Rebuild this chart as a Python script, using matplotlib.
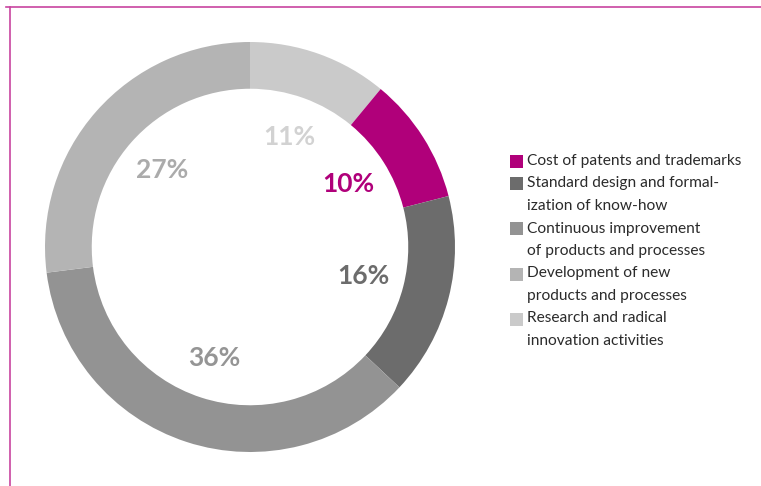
import numpy as np
import matplotlib.pyplot as plt
from matplotlib.lines import Line2D
from matplotlib.patches import Rectangle

# data, in clockwise order starting at 12 o'clock
categories = ['Research and radical\ninnovation activities',
              'Cost of patents and trademarks',
              'Standard design and formal-\nization of know-how',
              'Continuous improvement\nof products and processes',
              'Development of new\nproducts and processes']
shares = [11, 10, 16, 36, 27]
colors = ['#cacaca', '#b0007a', '#6c6c6c', '#939393', '#b4b4b4']
label_colors = ['#d2d2d2', '#b0007a', '#6c6c6c', '#959595', '#ababab']

# legend order as in the picture
legend_order = [1, 2, 3, 4, 0]

plt.rcParams['font.family'] = ['Lato', 'DejaVu Sans']

fig = plt.figure(figsize=(7.61, 4.86), dpi=100)
W, H = 761, 486

# frame lines (magenta)
frame_col = '#c8449f'
fig.add_artist(Line2D([6 / W, 1], [1 - 7.5 / H, 1 - 7.5 / H], color=frame_col, lw=1.2))
fig.add_artist(Line2D([9.5 / W, 9.5 / W], [0, 1 - 7.5 / H], color=frame_col, lw=1.2))

# donut
ax = fig.add_axes([45 / W, (H - 452) / H, 410 / W, 410 / H])
wedges, texts, autotexts = ax.pie(shares, colors=colors, startangle=90, counterclock=False,
                                  radius=1.0, wedgeprops=dict(width=0.228, linewidth=0),
                                  autopct='%d%%', pctdistance=0.57)
for t, c in zip(autotexts, label_colors):
    t.set_color(c)
    t.set_fontsize(19)
    t.set_fontweight('bold')
ax.set_xlim(-1, 1)
ax.set_ylim(-1, 1)
ax.axis('off')

# legend drawn by hand
y = 161
for i in legend_order:
    fig.add_artist(Rectangle((510 / W, 1 - (y + 7) / H), 13 / W, 13 / H,
                             transform=fig.transFigure, color=colors[i], lw=0))
    lines = categories[i].split('\n')
    for line in lines:
        fig.text(527 / W, 1 - y / H, line, fontsize=11.2, color='#2b2b2b',
                 va='center', ha='left')
        y += 22.5

plt.savefig('out.png', dpi=100)
